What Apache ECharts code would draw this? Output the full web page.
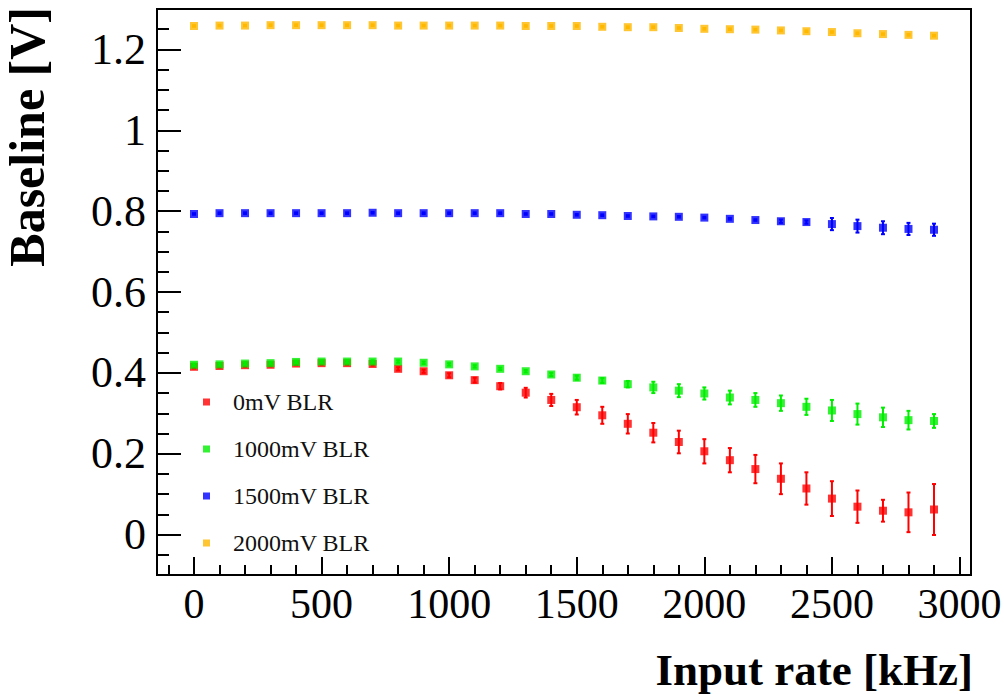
<!DOCTYPE html>
<html>
<head>
<meta charset="utf-8">
<script src="https://cdn.jsdelivr.net/npm/echarts@6/dist/echarts.min.js"></script>
<style>html,body{margin:0;padding:0;background:#fff}#c{width:1004px;height:694px}</style>
</head>
<body>
<div id="c"></div>
<script>
// ---- data ----
var inputRate = [0,100,200,300,400,500,600,700,800,900,1000,1100,1200,1300,1400,1500,1600,1700,1800,1900,2000,2100,2200,2300,2400,2500,2600,2700,2800,2900];
var seriesNames = ['0mV BLR','1000mV BLR','1500mV BLR','2000mV BLR'];
var baseline0 = [0.415,0.417,0.419,0.420,0.423,0.424,0.424,0.422,0.410,0.404,0.394,0.382,0.367,0.351,0.333,0.315,0.295,0.274,0.252,0.229,0.206,0.184,0.162,0.138,0.114,0.089,0.069,0.059,0.055,0.062];
var err0 = [0.004,0.004,0.004,0.004,0.004,0.004,0.004,0.004,0.004,0.004,0.005,0.006,0.008,0.012,0.015,0.018,0.021,0.024,0.024,0.028,0.030,0.030,0.035,0.038,0.040,0.043,0.040,0.027,0.049,0.063];
var baseline1000 = [0.420,0.421,0.423,0.424,0.427,0.428,0.428,0.428,0.428,0.425,0.421,0.416,0.410,0.404,0.396,0.388,0.381,0.372,0.364,0.356,0.349,0.339,0.333,0.325,0.316,0.307,0.298,0.290,0.283,0.281];
var err1000 = [0.003,0.003,0.003,0.003,0.003,0.003,0.003,0.003,0.003,0.003,0.003,0.003,0.003,0.003,0.004,0.005,0.006,0.008,0.014,0.016,0.015,0.017,0.017,0.019,0.020,0.026,0.026,0.024,0.023,0.017];
var baseline1500 = [0.793,0.795,0.795,0.795,0.795,0.795,0.795,0.796,0.795,0.795,0.795,0.795,0.795,0.793,0.793,0.791,0.790,0.788,0.787,0.786,0.784,0.781,0.778,0.775,0.773,0.768,0.763,0.759,0.756,0.754];
var err1500 = [0.002,0.002,0.002,0.002,0.002,0.002,0.002,0.002,0.002,0.002,0.002,0.002,0.002,0.002,0.002,0.002,0.002,0.002,0.002,0.002,0.002,0.002,0.002,0.004,0.004,0.015,0.016,0.016,0.015,0.015];
var baseline2000 = [1.258,1.259,1.259,1.260,1.260,1.260,1.260,1.260,1.259,1.259,1.259,1.259,1.259,1.258,1.258,1.258,1.256,1.255,1.255,1.253,1.251,1.250,1.249,1.247,1.245,1.243,1.240,1.238,1.236,1.234];
var err2000 = [0.002,0.002,0.002,0.002,0.002,0.002,0.002,0.002,0.002,0.002,0.002,0.002,0.002,0.002,0.002,0.002,0.002,0.002,0.002,0.002,0.002,0.002,0.002,0.002,0.002,0.002,0.002,0.002,0.002,0.002];
var xTickLabels = [0,500,1000,1500,2000,2500,3000];
var yTickLabels = [0,0.2,0.4,0.6,0.8,1,1.2];

// ---- style ----
var colors = ['#ff0000','#00ee00','#0000ff','#ffb800'];
var serif = '"Liberation Serif", "DejaVu Serif", serif';
var xMin = -145, xMax = 3045, yMin = -0.1, yMax = 1.3;
var xMinor = [], yMinor = [];
for (var v = -100; v <= 3000; v += 100) if (v % 500 !== 0) xMinor.push(v);
for (var k = -2; k <= 26; k++) { if (k % 4 !== 0) yMinor.push(Math.round(k * 0.05 * 100) / 100); }

var values = [baseline0, baseline1000, baseline1500, baseline2000];
var errs = [err0, err1000, err1500, err2000];

var series = [];
values.forEach(function (vals, i) {
  series.push({
    name: seriesNames[i] + ' err',
    type: 'custom',
    xAxisIndex: 0, yAxisIndex: 0,
    silent: true,
    z: 2 + i * 2,
    data: inputRate.map(function (x, j) { return [x, vals[j], errs[i][j]]; }),
    renderItem: function (params, api) {
      var x = api.value(0), y = api.value(1), e = api.value(2);
      var lo = api.coord([x, y - e]);
      var hi = api.coord([x, y + e]);
      var st = { stroke: colors[i], lineWidth: 2 };
      return {
        type: 'group',
        children: [
          { type: 'line', shape: { x1: lo[0], y1: lo[1], x2: hi[0], y2: hi[1] }, style: st },
          { type: 'line', shape: { x1: lo[0] - 2, y1: lo[1], x2: lo[0] + 2, y2: lo[1] }, style: st },
          { type: 'line', shape: { x1: hi[0] - 2, y1: hi[1], x2: hi[0] + 2, y2: hi[1] }, style: st }
        ]
      };
    }
  });
  series.push({
    name: seriesNames[i],
    type: 'scatter',
    xAxisIndex: 0, yAxisIndex: 0,
    symbol: 'rect',
    symbolSize: 8,
    z: 3 + i * 2,
    itemStyle: { color: colors[i] },
    data: inputRate.map(function (x, j) { return [x, vals[j]]; })
  });
});

function plain(v) { return String(v); }

var chart = echarts.init(document.getElementById('c'), null, { renderer: 'svg' });
chart.setOption({
  animation: false,
  backgroundColor: '#fff',
  grid: { left: 157, top: 9, width: 814, height: 566, outerBoundsMode: 'none', containLabel: false, show: true, borderColor: '#000', borderWidth: 2, backgroundColor: 'transparent' },
  legend: {
    data: seriesNames.map(function (n, i) { return { name: n, itemStyle: { color: colors[i] } }; }),
    orient: 'vertical',
    left: 198, top: 385,
    icon: 'rect',
    itemWidth: 7, itemHeight: 7,
    itemGap: 23,
    selectedMode: false,
    textStyle: { fontFamily: serif, fontSize: 24, color: '#111', lineHeight: 24, padding: [0, 0, 0, 18] }
  },
  xAxis: [{
    type: 'value', min: xMin, max: xMax, position: 'bottom',
    splitLine: { show: false },
    axisLine: { show: false, onZero: false },
    axisTick: { show: true, inside: true, length: 18, lineStyle: { color: '#000', width: 2 }, customValues: xTickLabels },
    axisLabel: { show: true, customValues: xTickLabels, formatter: plain, fontFamily: serif, fontSize: 42, color: '#000', margin: 8 }
  }, {
    type: 'value', min: xMin, max: xMax, position: 'bottom', offset: 0,
    splitLine: { show: false },
    axisLine: { show: false, onZero: false },
    axisTick: { show: true, inside: true, length: 10, lineStyle: { color: '#000', width: 2 }, customValues: xMinor },
    axisLabel: { show: false }
  }],
  yAxis: [{
    type: 'value', min: yMin, max: yMax, position: 'left',
    splitLine: { show: false },
    axisLine: { show: false, onZero: false },
    axisTick: { show: true, inside: true, length: 24, lineStyle: { color: '#000', width: 2 }, customValues: yTickLabels },
    axisLabel: { show: true, customValues: yTickLabels, formatter: plain, fontFamily: serif, fontSize: 44, color: '#000', margin: 11 }
  }, {
    type: 'value', min: yMin, max: yMax, position: 'left', offset: 0,
    splitLine: { show: false },
    axisLine: { show: false, onZero: false },
    axisTick: { show: true, inside: true, length: 12, lineStyle: { color: '#000', width: 2 }, customValues: yMinor },
    axisLabel: { show: false }
  }],
  graphic: [
    { type: 'text', x: 973, y: 670, style: { text: 'Input rate [kHz]', font: 'bold 45px ' + serif, fill: '#000', textAlign: 'right', textVerticalAlign: 'middle' } },
    { type: 'text', x: 27, y: 7, rotation: Math.PI / 2, style: { text: 'Baseline [V]', font: 'bold 50px ' + serif, fill: '#000', textAlign: 'right', textVerticalAlign: 'middle' } }
  ],
  series: series
});
</script>
</body>
</html>
